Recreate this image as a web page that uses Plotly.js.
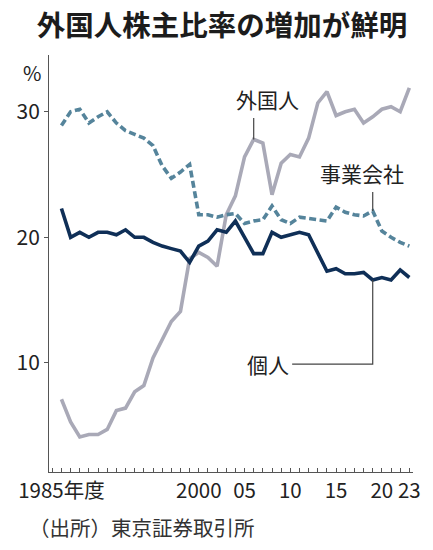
<!DOCTYPE html>
<html>
<head>
<meta charset="utf-8">
<script src="https://cdn.plot.ly/plotly-3.0.1.min.js"></script>
<style>html,body{margin:0;padding:0;background:#fff;}</style>
</head>
<body>
<div id="chart" style="width:433px;height:550px;"></div>
<script>
const years = [];
for (let y = 1985; y <= 2023; y++) years.push(y);

const foreign = [7.1, 5.3, 4.1, 4.3, 4.3, 4.7, 6.2, 6.4, 7.7, 8.2,
                 10.4, 11.8, 13.3, 14.1, 18.3, 18.8, 18.4, 17.7, 21.8, 23.3,
                 26.4, 27.8, 27.5, 23.4, 25.9, 26.6, 26.4, 27.9, 30.7, 31.6,
                 29.7, 30.0, 30.2, 29.1, 29.6, 30.2, 30.4, 30.0, 31.9];
const corporate = [28.9, 30.0, 30.2, 29.1, 29.6, 30.0, 29.1, 28.5, 28.2, 27.9,
                   27.3, 25.7, 24.7, 25.2, 25.8, 21.8, 21.8, 21.6, 21.8, 21.9,
                   21.1, 21.3, 21.4, 22.5, 21.4, 21.1, 21.6, 21.5, 21.4, 21.3,
                   22.4, 22.0, 21.8, 21.7, 22.1, 20.5, 20.0, 19.6, 19.3];
const individual = [22.3, 20.0, 20.4, 20.0, 20.4, 20.4, 20.2, 20.6, 20.0, 20.0,
                    19.6, 19.3, 19.1, 18.9, 18.0, 19.3, 19.7, 20.6, 20.4, 21.3,
                    20.0, 18.7, 18.7, 20.4, 20.0, 20.2, 20.4, 20.2, 18.7, 17.3,
                    17.5, 17.1, 17.1, 17.2, 16.6, 16.8, 16.6, 17.4, 16.8];

const xTickVals = [1985, 2000, 2005, 2010, 2015, 2020, 2023];
const xTickText = ['1985年度', '2000', '05', '10', '15', '20', '23'];
const yTickVals = [10, 20, 30];
const yTickText = ['10', '20', '30'];

const seriesNames = ['外国人', '事業会社', '個人'];
const sourceText = '（出所）東京証券取引所';
const titleText = '外国人株主比率の増加が鮮明';

const numFont = 'Liberation Sans Narrow, Noto Sans CJK JP, sans-serif';
const jpFont = 'Noto Sans CJK JP, sans-serif';

const traces = [
  {x: years, y: foreign, name: seriesNames[0], mode: 'lines',
   line: {color: '#a9a9b7', width: 3.6}},
  {x: years, y: corporate, name: seriesNames[1], mode: 'lines',
   line: {color: '#55849b', width: 3.6, dash: '7px,3.5px'}},
  {x: years, y: individual, name: seriesNames[2], mode: 'lines',
   line: {color: '#0f2f57', width: 3.6}}
];

const iF = years.indexOf(2006);
const iC = years.indexOf(2019);
const iI = years.indexOf(2019);

const layout = {
  width: 433, height: 550, autosize: false,
  paper_bgcolor: '#ffffff', plot_bgcolor: '#ffffff',
  showlegend: false,
  margin: {l: 49, r: 20, t: 55, b: 78},
  title: {text: '<b>' + titleText + '</b>', font: {family: jpFont, size: 28.5, color: '#1c1c1c'},
          xref: 'container', yref: 'container', x: 0.513, xanchor: 'center', y: 0.952, yanchor: 'middle'},
  xaxis: {
    range: [1983.64, 2023.4], showgrid: false, zeroline: false,
    showline: true, linecolor: '#555', linewidth: 1,
    tickmode: 'array', tickvals: xTickVals, ticktext: xTickText,
    ticks: 'inside', ticklen: 4, tickcolor: '#555', tickwidth: 1,
    minor: {tickmode: 'linear', tick0: 1985, dtick: 1, ticks: 'inside', ticklen: 4, tickcolor: '#555', tickwidth: 1},
    tickfont: {family: numFont, size: 20.5, color: '#222'}
  },
  yaxis: {
    range: [1.31, 34.52], showgrid: false, zeroline: false,
    showline: true, linecolor: '#555', linewidth: 1,
    tickmode: 'array', tickvals: yTickVals, ticktext: yTickText,
    ticks: 'outside', ticklen: 4, tickcolor: '#555', tickwidth: 1,
    tickfont: {family: numFont, size: 21, color: '#222'}
  },
  annotations: [
    {text: '%', xref: 'paper', yref: 'paper', x: -0.047, y: 0.957, xanchor: 'center', yanchor: 'middle',
     showarrow: false, font: {family: numFont, size: 20, color: '#222'}},
    {text: sourceText, xref: 'paper', yref: 'paper', x: -0.06, y: -0.133, xanchor: 'left', yanchor: 'middle',
     showarrow: false, font: {family: jpFont, size: 20.5, color: '#333'}},
    {text: seriesNames[0], xref: 'x', yref: 'y', x: 2007.55, y: 31.0, showarrow: false,
     xanchor: 'center', yanchor: 'middle', font: {family: jpFont, size: 21, color: '#222'}},
    {text: seriesNames[1], xref: 'x', yref: 'y', x: 2017.83, y: 25.1, showarrow: false,
     xanchor: 'center', yanchor: 'middle', font: {family: jpFont, size: 21, color: '#222'}},
    {text: seriesNames[2], xref: 'x', yref: 'y', x: 2007.55, y: 9.9, showarrow: false,
     xanchor: 'center', yanchor: 'middle', font: {family: jpFont, size: 21, color: '#222'}}
  ],
  shapes: [
    {type: 'line', xref: 'x', yref: 'y', x0: years[iF], x1: years[iF], y0: 29.5, y1: foreign[iF],
     line: {color: '#444', width: 1.2}},
    {type: 'line', xref: 'x', yref: 'y', x0: years[iC], x1: years[iC], y0: 23.6, y1: corporate[iC],
     line: {color: '#444', width: 1.2}},
    {type: 'path', xref: 'x', yref: 'y',
     path: 'M 2010.2,9.9 L ' + years[iI] + ',9.9 L ' + years[iI] + ',' + individual[iI],
     line: {color: '#444', width: 1.2}}
  ]
};

Plotly.newPlot('chart', traces, layout, {displayModeBar: false, staticPlot: true});
</script>
</body>
</html>
